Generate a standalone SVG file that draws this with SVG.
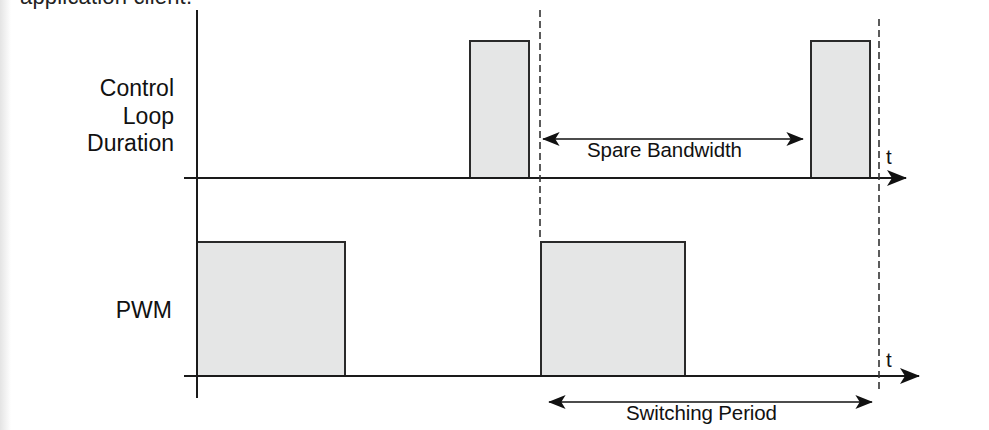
<svg xmlns="http://www.w3.org/2000/svg" width="989" height="430" viewBox="0 0 989 430">
  <defs>
    <linearGradient id="pageEdge" x1="0" y1="0" x2="1" y2="0">
      <stop offset="0" stop-color="#e4e4e4"/>
      <stop offset="1" stop-color="#ffffff"/>
    </linearGradient>
    <marker id="head" viewBox="0 0 20 16" refX="19" refY="8" markerWidth="20" markerHeight="16" markerUnits="userSpaceOnUse" orient="auto-start-reverse">
      <path d="M0,0 L20,8 L0,16 L5,8 Z" fill="#111"/>
    </marker>
    <marker id="dimHead" viewBox="0 0 20 16" refX="19" refY="8" markerWidth="18" markerHeight="14" markerUnits="userSpaceOnUse" orient="auto-start-reverse">
      <path d="M0,0 L20,8 L0,16 L5,8 Z" fill="#111"/>
    </marker>
  </defs>
  <style>
    .label { font-family: "Liberation Sans", Arial, Helvetica, sans-serif; font-size: 23px; fill: #111; }
    .dimtext { font-family: "Liberation Sans", Arial, Helvetica, sans-serif; font-size: 20.5px; fill: #111; }
    .axis { stroke: #1a1a1a; stroke-width: 2; fill: none; }
    .pulse { fill: #e5e6e6; stroke: #2a2a2a; stroke-width: 2; }
    .period { stroke: #333; stroke-width: 1.6; stroke-dasharray: 7 4; fill: none; }
    .dim { stroke: #111; stroke-width: 1.6; fill: none; }
  </style>

  <rect x="0" y="0" width="989" height="430" fill="#ffffff"/>
  <rect x="0" y="0" width="11" height="430" fill="url(#pageEdge)"/>
  <text x="20" y="4" font-family="'Liberation Sans', Arial, sans-serif" font-size="22" fill="#222" textLength="172">application client.</text>

  <!-- signal labels -->
  <g id="label-control">
    <text class="label" text-anchor="end" x="174" y="96">Control</text>
    <text class="label" text-anchor="end" x="174" y="124">Loop</text>
    <text class="label" text-anchor="end" x="174" y="151">Duration</text>
  </g>
  <g id="label-pwm">
    <text class="label" text-anchor="end" x="172" y="318">PWM</text>
  </g>

  <!-- control loop execution pulses -->
  <g id="loop-pulse-1"><rect class="pulse" x="470" y="41" width="59" height="137"/></g>
  <g id="loop-pulse-2"><rect class="pulse" x="811" y="41" width="59" height="137"/></g>

  <!-- PWM on-time pulses -->
  <g id="pwm-pulse-1"><rect class="pulse" x="197" y="242" width="148" height="134"/></g>
  <g id="pwm-pulse-2"><rect class="pulse" x="541" y="242" width="144" height="134"/></g>

  <g id="connectors">
    <!-- axes -->
    <line class="axis" x1="197" y1="10" x2="197" y2="398"/>
    <line class="axis" x1="184" y1="178" x2="906" y2="178" marker-end="url(#head)"/>
    <line class="axis" x1="184" y1="376" x2="919" y2="376" marker-end="url(#head)"/>
    <!-- period boundaries -->
    <line class="period" x1="540" y1="10" x2="540" y2="241"/>
    <line class="period" x1="879" y1="19" x2="879" y2="393"/>
    <!-- dimension arrows -->
    <line class="dim" x1="543" y1="139" x2="803" y2="139" marker-start="url(#dimHead)" marker-end="url(#dimHead)"/>
    <line class="dim" x1="549" y1="402" x2="872" y2="402" marker-start="url(#dimHead)" marker-end="url(#dimHead)"/>
  </g>

  <g id="dimension-labels">
    <text class="dimtext" x="587" y="157" textLength="155">Spare Bandwidth</text>
    <text class="dimtext" x="626" y="420" textLength="151">Switching Period</text>
    <text class="dimtext" x="886" y="164" font-size="21">t</text>
    <text class="dimtext" x="886" y="367" font-size="21">t</text>
  </g>
</svg>
